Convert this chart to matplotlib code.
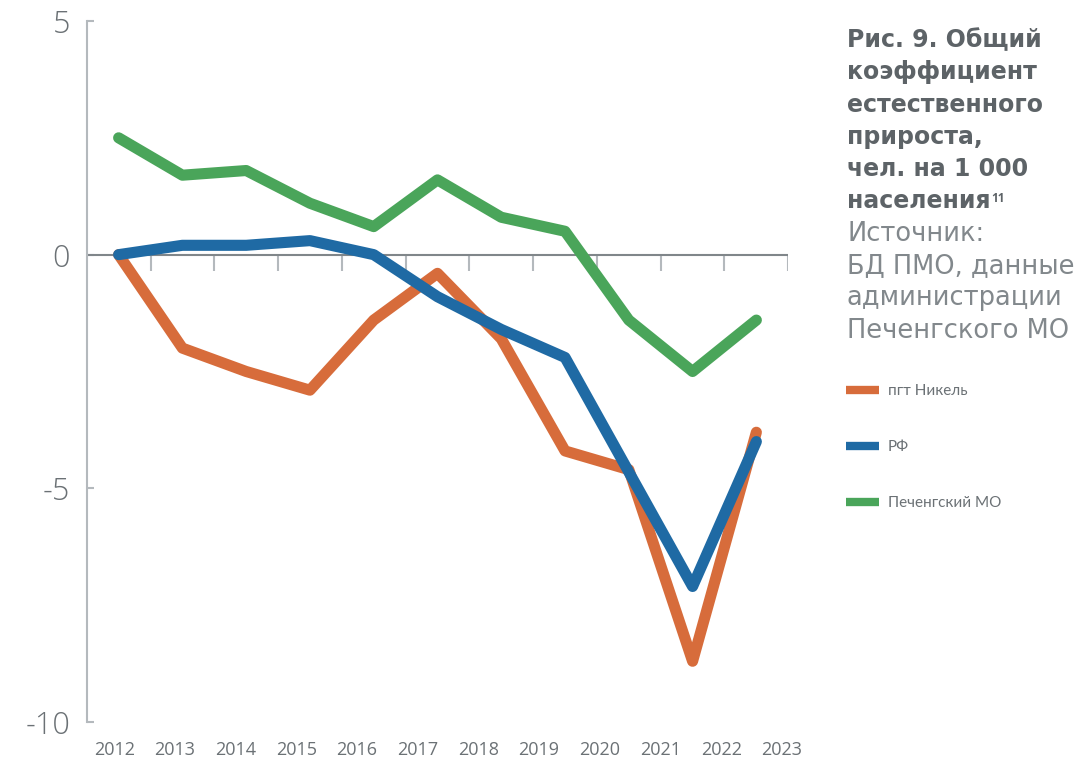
import numpy as np
import matplotlib
matplotlib.use('Agg')
import matplotlib.pyplot as plt

plt.rcParams['font.family'] = ['Open Sans', 'DejaVu Sans']

# Data
years = ['2012', '2013', '2014', '2015', '2016', '2017',
         '2018', '2019', '2020', '2021', '2022', '2023']
nikel = [0.0, -2.0, -2.5, -2.9, -1.4, -0.4, -1.8, -4.2, -4.6, -8.7, -3.8]
rf = [0.0, 0.2, 0.2, 0.3, 0.0, -0.9, -1.6, -2.2, -4.65, -7.1, -4.0]
pechenga = [2.5, 1.7, 1.8, 1.1, 0.6, 1.6, 0.8, 0.5, -1.4, -2.5, -1.4]

series_names = ['пгт Никель', 'РФ', 'Печенгский МО']
colors = ['#d76c3b', '#1f6aa4', '#4aa55a']

text_gray = '#6b7175'
axis_gray = '#b4b9bd'

fig = plt.figure(figsize=(10.91, 7.60), dpi=100)
ax = fig.add_axes([0.0795, 0.05, 0.643, 0.9224])

# points sit in the middle of each category slot
x = np.arange(len(nikel)) + 0.5
for vals, c, name in zip([nikel, rf, pechenga], colors, series_names):
    ax.plot(x, vals, color=c, lw=8, label=name, zorder=3,
            solid_capstyle='round', solid_joinstyle='round')

ax.set_xlim(0, len(nikel))
ax.set_ylim(-10, 5)

# y axis
ax.set_yticks([5, 0, -5, -10])
ax.set_yticklabels(['5', '0', '-5', '-10'])
ax.tick_params(axis='y', direction='in', length=5, width=1.5, color=axis_gray,
               labelsize=22, labelcolor=text_gray, pad=12)
for lab in ax.get_yticklabels():
    lab.set_fontweight('light')
ax.spines['left'].set_color(axis_gray)
ax.spines['left'].set_linewidth(1.5)
for s in ['top', 'right', 'bottom']:
    ax.spines[s].set_visible(False)

# year labels along the bottom (spaced independently of the data slots)
ax.set_xticks(np.linspace(0.43, 10.9, len(years)))
ax.set_xticklabels(years)
ax.tick_params(axis='x', length=0, labelsize=13, labelcolor=text_gray, pad=14)

# zero line with category tick marks hanging below it
ax.axhline(0, color='#80868a', lw=1.5, zorder=2)
ax.vlines(np.arange(1, len(nikel) + 1), -0.36, 0, color=axis_gray, lw=1.5, zorder=1)

# caption on the right
title_lines = ['Рис. 9. Общий', 'коэффициент', 'естественного', 'прироста,',
               'чел. на 1 000', 'населения']
source_lines = ['Источник:', 'БД ПМО, данные', 'администрации', 'Печенгского МО']
x0 = 847 / 1091
y = 1 - 40 / 760
step = 32.3 / 760
last = None
for line in title_lines:
    last = fig.text(x0, y, line, fontsize=17, fontweight='bold', color='#5d6367',
                    va='center', ha='left', family=['DejaVu Sans'])
    y -= step
for line in source_lines:
    fig.text(x0, y, line, fontsize=18.5, color='#82888c',
             va='center', ha='left', family=['DejaVu Sans'])
    y -= step

fig.canvas.draw()
bb = last.get_window_extent(fig.canvas.get_renderer())
fig.text(bb.x1 / fig.bbox.width + 0.0005, (bb.y1 - 3) / fig.bbox.height, '11',
         fontsize=8.5, fontweight='bold', color='#5d6367', va='top', ha='left')

# legend
leg = fig.legend(loc='upper left', bbox_to_anchor=(846 / 1091, 1 - 384 / 760),
                 frameon=False, fontsize=11, handlelength=2.15, handletextpad=0.6,
                 labelspacing=2.75, borderaxespad=0, borderpad=0)
for h in leg.get_lines():
    h.set_linewidth(6)
    h.set_solid_capstyle('butt')
for t in leg.get_texts():
    t.set_color(text_gray)
    t.set_fontfamily(['Lato', 'DejaVu Sans'])

fig.savefig('out.png', dpi=100)
